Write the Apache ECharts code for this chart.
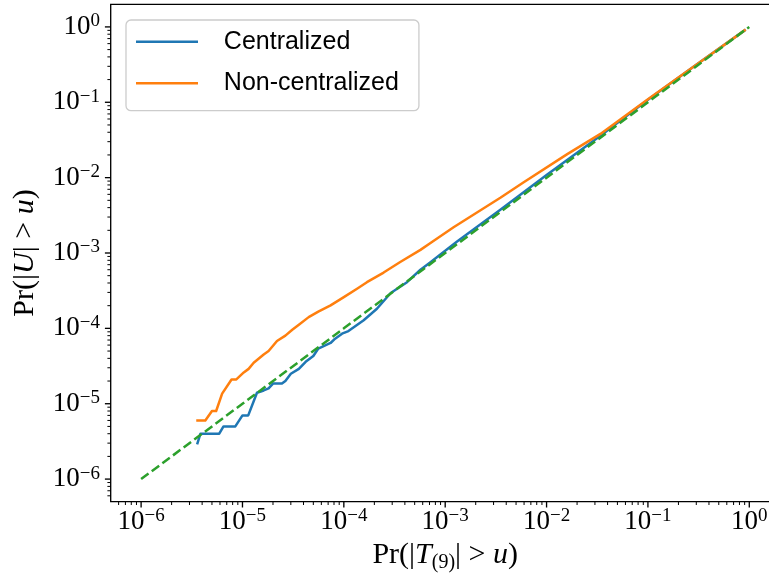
<!DOCTYPE html>
<html><head><meta charset="utf-8">
<script src="https://cdn.jsdelivr.net/npm/echarts@6/dist/echarts.min.js"></script>
<style>html,body{margin:0;padding:0;background:#fff;overflow:hidden;width:769px;height:579px}#c{width:780px;height:579px}</style>
</head><body><div id="c"></div>
<script>
const seriesNames = ['Centralized', 'Non-centralized'];
const centralizedX = [3.6e-6, 3.85e-6, 5.9e-6, 6.5e-6, 8.5e-6, 1.0e-5, 1.14e-5, 1.39e-5, 1.62e-5, 1.81e-5, 2.0e-5, 2.45e-5, 2.65e-5, 3.0e-5, 3.6e-5, 4.2e-5, 5.0e-5, 5.6e-5, 7.4e-5, 8.2e-5, 9.6e-5, 1.11e-4, 1.57e-4, 2.12e-4, 2.9e-4, 4.2e-4, 5.7e-4, 7.1e-4, 1.31e-3, 3.5e-3, 1.0e-2, 3.4e-2, 0.1, 0.3, 0.9];
const centralizedY = [3.0e-6, 4.0e-6, 4.0e-6, 5.0e-6, 5.0e-6, 7.0e-6, 7.0e-6, 1.4e-5, 1.5e-5, 1.6e-5, 1.85e-5, 1.85e-5, 2.0e-5, 2.5e-5, 2.9e-5, 3.6e-5, 4.3e-5, 5.4e-5, 6.4e-5, 7.3e-5, 8.5e-5, 9.2e-5, 1.28e-4, 1.82e-4, 2.95e-4, 4.1e-4, 6.0e-4, 7.5e-4, 1.42e-3, 3.75e-3, 1.08e-2, 3.6e-2, 0.108, 0.315, 0.9];
const nonCentralizedX = [3.6e-6, 4.3e-6, 5.0e-6, 5.5e-6, 6.3e-6, 7.8e-6, 8.7e-6, 1.03e-5, 1.15e-5, 1.29e-5, 1.62e-5, 1.81e-5, 2.19e-5, 2.65e-5, 3.1e-5, 3.6e-5, 4.5e-5, 5.6e-5, 7.4e-5, 1.0e-4, 1.35e-4, 1.69e-4, 2.47e-4, 3.6e-4, 5.7e-4, 7.1e-4, 1.21e-3, 3.5e-3, 5.9e-3, 1.6e-2, 3.4e-2, 0.1, 0.3, 0.9];
const nonCentralizedY = [6.0e-6, 6.0e-6, 8.0e-6, 8.0e-6, 1.36e-5, 2.1e-5, 2.1e-5, 2.6e-5, 2.9e-5, 3.5e-5, 4.5e-5, 5.0e-5, 6.8e-5, 8.0e-5, 9.6e-5, 1.12e-4, 1.41e-4, 1.67e-4, 2.02e-4, 2.6e-4, 3.36e-4, 4.1e-4, 5.5e-4, 7.6e-4, 1.1e-3, 1.35e-3, 2.2e-3, 5.4e-3, 8.6e-3, 2.05e-2, 3.8e-2, 0.11, 0.315, 0.9];
const referenceX = [1e-6, 1e-5, 1e-4, 1e-3, 1e-2, 1e-1, 1];
const referenceY = [1e-6, 1e-5, 1e-4, 1e-3, 1e-2, 1e-1, 1];
const majorExponents = [-6, -5, -4, -3, -2, -1, 0];
const minorMultipliers = [2, 3, 4, 5, 6, 7, 8, 9];

const AX_MIN = Math.pow(10, -6.3), AX_MAX = Math.pow(10, 0.3);
const zip = (xs, ys) => xs.map((x, i) => [x, ys[i]]);

const tickData = [];
majorExponents.forEach(e => {
  const v = Math.pow(10, e);
  tickData.push([v, AX_MIN, 0]);
  tickData.push([AX_MIN, v, 2]);
});
for (let e = -7; e <= 0; e++) {
  minorMultipliers.forEach(m => {
    const v = m * Math.pow(10, e);
    if (v > AX_MIN && v < AX_MAX) {
      tickData.push([v, AX_MIN, 1]);
      tickData.push([AX_MIN, v, 3]);
    }
  });
}
function renderTick(params, api) {
  const kind = api.value(2);
  const p = api.coord([api.value(0), api.value(1)]);
  const major = (kind === 0 || kind === 2);
  const len = major ? 5.8 : 3.3;
  const w = major ? 1.33 : 1.0;
  const shape = kind < 2 ? {x1: p[0], y1: p[1], x2: p[0], y2: p[1] + len}
                         : {x1: p[0] - len, y1: p[1], x2: p[0], y2: p[1]};
  return {type: 'line', shape: shape, style: {stroke: '#000', lineWidth: w}};
}
function powLabel(v) {
  const l = Math.log10(v), e = Math.round(l);
  if (Math.abs(l - e) > 1e-6) return '';
  return '{b|10}{s|' + (e < 0 ? '\u2212' + (-e) : String(e)) + '}';
}
const SERIF = 'Liberation Serif';
const labelRich = {
  b: {fontFamily: SERIF, fontSize: 27, lineHeight: 30, color: '#000'},
  s: {fontFamily: SERIF, fontSize: 19, lineHeight: 18, verticalAlign: 'top', color: '#000'}
};
const nameRich = {
  n: {fontFamily: SERIF, fontSize: 30, lineHeight: 36, color: '#000'},
  i: {fontFamily: SERIF, fontSize: 30, lineHeight: 36, fontStyle: 'italic', color: '#000'},
  sub: {fontFamily: SERIF, fontSize: 20, lineHeight: 20, verticalAlign: 'bottom', color: '#000'}
};

const chart = echarts.init(document.getElementById('c'), null, {renderer: 'canvas'});
chart.setOption({
  animation: false,
  backgroundColor: '#fff',
  grid: {left: 110.7, top: 4.3, bottom: 77.3, right: 0.3, outerBoundsMode: 'none', containLabel: false,
         show: true, borderColor: '#000', borderWidth: 1.33, backgroundColor: 'transparent'},
  legend: {
    data: seriesNames, orient: 'vertical', left: 126, top: 20,
    icon: 'rect', itemWidth: 62, itemHeight: 2.5, itemGap: 13.6,
    padding: [7.7, 20, 13.4, 10],
    backgroundColor: 'rgba(255,255,255,0.8)', borderColor: '#cccccc', borderWidth: 1.3, borderRadius: 5,
    formatter: n => '   ' + n,
    textStyle: {fontFamily: 'Liberation Sans', fontSize: 25, lineHeight: 28, color: '#000'}
  },
  xAxis: {
    type: 'log', logBase: 10, min: AX_MIN, max: AX_MAX,
    axisLine: {show: false}, axisTick: {show: false}, splitLine: {show: false},
    axisLabel: {formatter: powLabel, rich: labelRich, margin: 5, showMinLabel: true, showMaxLabel: true, hideOverlap: false},
    name: '{n|Pr(|}{i|T}{sub|(9)}{n|| > }{i|u}{n|)}',
    nameLocation: 'middle', nameGap: 35,
    nameTextStyle: {rich: nameRich}
  },
  yAxis: {
    type: 'log', logBase: 10, min: AX_MIN, max: AX_MAX,
    axisLine: {show: false}, axisTick: {show: false}, splitLine: {show: false},
    axisLabel: {formatter: powLabel, rich: labelRich, margin: 10.7, hideOverlap: false},
    name: '{n|Pr(|}{i|U}{n|| > }{i|u}{n|)}',
    nameLocation: 'middle', nameGap: 68,
    nameTextStyle: {rich: nameRich}
  },
  series: [
    {name: seriesNames[0], type: 'line', data: zip(centralizedX, centralizedY), symbol: 'none', showSymbol: false,
     itemStyle: {color: '#1f77b4'}, lineStyle: {color: '#1f77b4', width: 2.5, cap: 'square', join: 'round'}},
    {name: seriesNames[1], type: 'line', data: zip(nonCentralizedX, nonCentralizedY), symbol: 'none', showSymbol: false,
     itemStyle: {color: '#ff7f0e'}, lineStyle: {color: '#ff7f0e', width: 2.5, cap: 'square', join: 'round'}},
    {name: 'reference', type: 'line', data: zip(referenceX, referenceY), symbol: 'none', showSymbol: false,
     itemStyle: {color: '#2ca02c'}, lineStyle: {color: '#2ca02c', width: 2.5, type: [9.25, 4], cap: 'butt'}},
    {name: 'ticks', type: 'custom', data: tickData, renderItem: renderTick, clip: false, silent: true, z: 5}
  ]
});
</script></body></html>
